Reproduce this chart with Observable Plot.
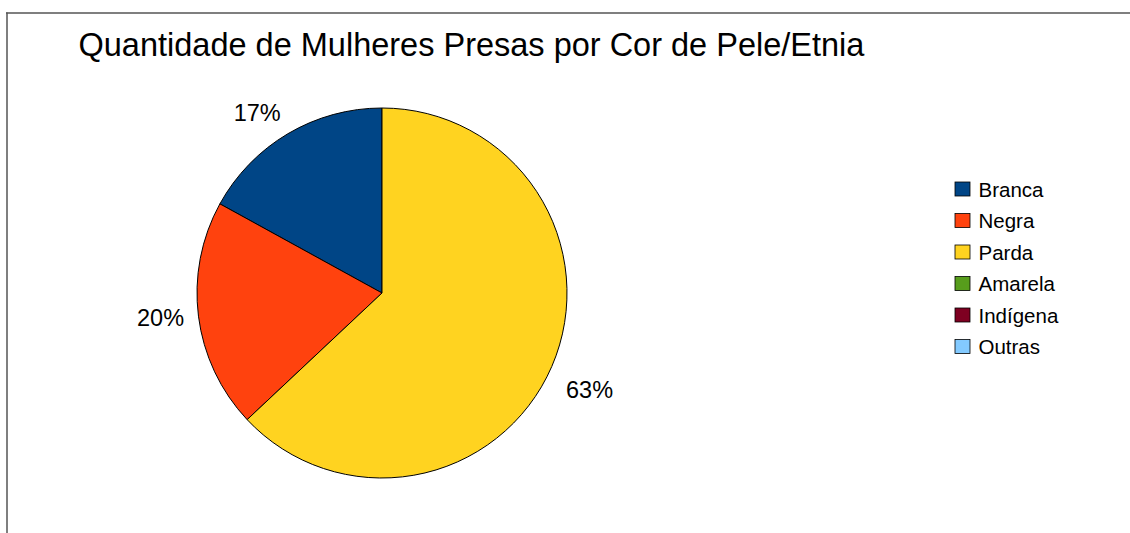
<!DOCTYPE html>
<html>
<head>
<meta charset="utf-8">
<script src="https://cdn.jsdelivr.net/npm/d3@7"></script>
<script src="https://cdn.jsdelivr.net/npm/@observablehq/plot@0.6"></script>
<style>
  html, body { margin: 0; padding: 0; background: #fff; }
  #chart { width: 1130px; height: 533px; overflow: hidden; }
</style>
</head>
<body>
<div id="chart"></div>
<script>
// ---- data ----
const title = "Quantidade de Mulheres Presas por Cor de Pele/Etnia";
const categories = ["Branca", "Negra", "Parda", "Amarela", "Indígena", "Outras"];
const values = [17, 20, 63, 0, 0, 0];
const colors = ["#004586", "#ff420e", "#ffd320", "#579d1c", "#7e0021", "#83caff"];

// ---- layout ----
const W = 1130, H = 533;
const cx = 382, cy = 293, R = 185, labelR = 200;
const font = "'Liberation Sans', Arial, sans-serif";

const rows = categories.map((c, i) => ({category: c, value: values[i], color: colors[i], i}));
const total = d3.sum(values);
const arcs = d3.pie().sort(null).value(d => d.value).startAngle(0).endAngle(-2 * Math.PI)(rows);

const labels = arcs.filter(a => a.data.value > 0).map(a => {
  const m = (a.startAngle + a.endAngle) / 2;
  const s = Math.sin(m), c = Math.cos(m);
  return {
    text: Math.round(a.data.value / total * 100) + "%",
    x: cx + labelR * s,
    y: cy - labelR * c,
    ta: s < 0 ? "end" : "start",
    la: c > 0.3 ? "bottom" : c < -0.3 ? "top" : "middle"
  };
});

function pieMark(index, scales, values, dimensions, context) {
  const g = d3.create("svg:g")
    .attr("transform", `translate(${scales.x(cx)},${scales.y(cy)})`);
  const arc = d3.arc().innerRadius(0).outerRadius(R);
  g.selectAll("path")
    .data(arcs.filter(a => a.data.value > 0))
    .join("path")
    .attr("d", arc)
    .attr("fill", a => a.data.color)
    .attr("stroke", "#000")
    .attr("stroke-width", 1)
    .attr("stroke-linejoin", "round");
  return g.node();
}

const labelMarks = [];
for (const ta of ["start", "end"]) {
  for (const la of ["top", "middle", "bottom"]) {
    labelMarks.push(Plot.text(labels, {
      filter: d => d.ta === ta && d.la === la,
      x: "x", y: "y", text: "text",
      textAnchor: ta, lineAnchor: la,
      dy: la === "top" ? 8 : 0,
      fontSize: 23.5, fill: "#000"
    }));
  }
}

const chart = Plot.plot({
  width: W, height: H,
  margin: 0,
  x: {type: "linear", domain: [0, W], range: [0, W], axis: null},
  y: {type: "linear", domain: [0, H], range: [0, H], axis: null},
  style: {fontFamily: font, background: "#fff", overflow: "visible"},
  marks: [
    Plot.ruleY([12.5], {x1: 6, x2: W, stroke: "#555", strokeWidth: 1.5}),
    Plot.ruleX([6.5], {y1: 12.5, y2: H, stroke: "#555", strokeWidth: 1.5}),
    Plot.text([title], {x: 78, y: 55, text: d => d, textAnchor: "start", lineAnchor: "bottom", fontSize: 32.5, fill: "#000"}),
    pieMark,
    ...labelMarks,
    Plot.rect(rows, {
      x1: 955, x2: 970,
      y1: d => 182 + d.i * 31.5, y2: d => 196 + d.i * 31.5,
      fill: d => d.color, stroke: "#000", strokeWidth: 0.8
    }),
    Plot.text(rows, {
      x: 978, y: d => 189.5 + d.i * 31.5, text: "category",
      textAnchor: "start", lineAnchor: "middle", fontSize: 20.5, fill: "#000"
    })
  ]
});
document.getElementById("chart").appendChild(chart);
</script>
</body>
</html>
